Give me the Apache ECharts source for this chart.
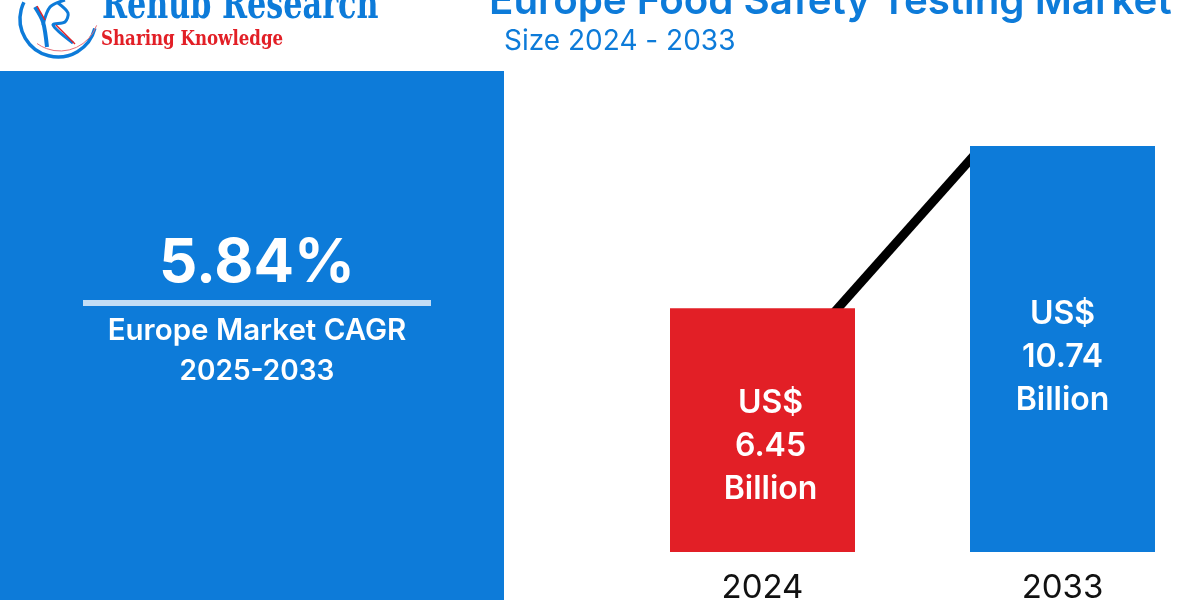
<!DOCTYPE html>
<html>
<head>
<meta charset="utf-8">
<title>Europe Food Safety Testing Market</title>
<script src="https://cdn.jsdelivr.net/npm/echarts@6/dist/echarts.min.js"></script>
<style>
    html, body { margin: 0; padding: 0; background: #fff; overflow: hidden; }
    #main { width: 1200px; height: 600px; }
</style>
</head>
<body>
<div id="main"></div>
<script>
    var years = ['2024', '2033'];
    var marketSize = [6.45, 10.74];
    // black line behind the bars, ends hidden inside them
    var trendYears = [2025.58, 2030.47];
    var trendValues = [5.77, 10.61];

    var BLUE = '#0d7bd9';
    var RED = '#e21f26';
    var FONT = 'Inter, "Noto Sans", sans-serif';
    var LOGO_FONT = '"DejaVu Serif Condensed", "Liberation Serif", serif';

    var chart = echarts.init(document.getElementById('main'));

    function txt(x, y, text, size, weight, color, align, family, scaleX) {
        return {
            type: 'text', x: x, y: y, z: 5, scaleX: scaleX || 1,
            style: {
                text: text, fontSize: size, fontWeight: weight, fill: color,
                fontFamily: family || FONT, align: align || 'center', verticalAlign: 'middle'
            }
        };
    }

    function stroke(points, color, width, z) {
        return { type: 'polyline', z: z || 6, shape: { points: points, smooth: 0.3 },
                 style: { stroke: color, fill: null, lineWidth: width } };
    }

    var option = {
        backgroundColor: '#fff',
        animation: false,
        grid: { left: 612.5, top: 0, width: 600, height: 552, outerBoundsMode: 'none' },
        xAxis: [{
            type: 'category',
            data: years,
            axisLine: { show: false },
            axisTick: { show: false },
            axisLabel: { color: '#111', fontSize: 33, fontFamily: FONT, margin: 20 }
        }, {
            type: 'value', min: 2019.5, max: 2037.5, show: false, splitLine: { show: false }
        }],
        yAxis: { type: 'value', min: 0, max: 14.6, show: false, splitLine: { show: false } },
        series: [{
            type: 'line',
            xAxisIndex: 1,
            data: [[trendYears[0], trendValues[0]], [trendYears[1], trendValues[1]]],
            z: 1,
            symbol: 'none',
            lineStyle: { color: '#000', width: 9 }
        }, {
            type: 'bar',
            z: 2,
            barWidth: 185,
            data: [
                { value: marketSize[0], itemStyle: { color: RED }, label: { offset: [8, 16] } },
                { value: marketSize[1], itemStyle: { color: BLUE }, label: { offset: [0, 8] } }
            ],
            label: {
                show: true,
                position: 'inside',
                color: '#fff',
                fontSize: 32,
                fontWeight: 600,
                fontFamily: FONT,
                lineHeight: 43,
                formatter: function (p) { return 'US$\n' + p.value + '\nBillion'; }
            }
        }],
        graphic: [
            { type: 'rect', z: 0, shape: { x: 0, y: 71, width: 504, height: 529 }, style: { fill: BLUE } },
            { type: 'rect', z: 5, shape: { x: 83, y: 300, width: 348, height: 6 }, style: { fill: '#c2ddf6' } },
            txt(257, 264, '5.84%', 60, 700, '#fff'),
            txt(257, 331, 'Europe Market CAGR', 29.5, 600, '#fff'),
            txt(257, 372, '2025-2033', 28, 600, '#fff'),
            txt(489, 2, 'Europe Food Safety Testing Market', 40.3, 600, BLUE, 'left'),
            txt(504, 42, 'Size 2024 - 2033', 28, 400, BLUE, 'left'),
            // logo
            { type: 'arc', z: 5, shape: { cx: 58, cy: 19, r: 38, startAngle: 0.25, endAngle: 3.6, clockwise: true },
              style: { stroke: BLUE, fill: null, lineWidth: 3.5 } },
            { type: 'arc', z: 6, shape: { cx: 60, cy: 12, r: 39, startAngle: 0.35, endAngle: 2.2, clockwise: true },
              style: { stroke: '#e8707a', fill: null, lineWidth: 1 } },
            stroke([[35, 7], [43, 22], [47, 47]], BLUE, 4),
            stroke([[43, 25], [50, 7], [65, 0]], BLUE, 3),
            stroke([[58, 3], [68, 13], [65, 22], [53, 25], [73, 43]], BLUE, 3),
            stroke([[56, 25], [75, 44]], RED, 1.5, 7),
            stroke([[37, 6], [45, 20]], RED, 1.5, 7),
            txt(102, 7, 'Renub Research', 42, 700, BLUE, 'left', LOGO_FONT, 0.8),
            txt(101, 40, 'Sharing Knowledge', 21, 700, RED, 'left', LOGO_FONT, 0.88)
        ]
    };
    chart.setOption(option);
</script>
</body>
</html>
